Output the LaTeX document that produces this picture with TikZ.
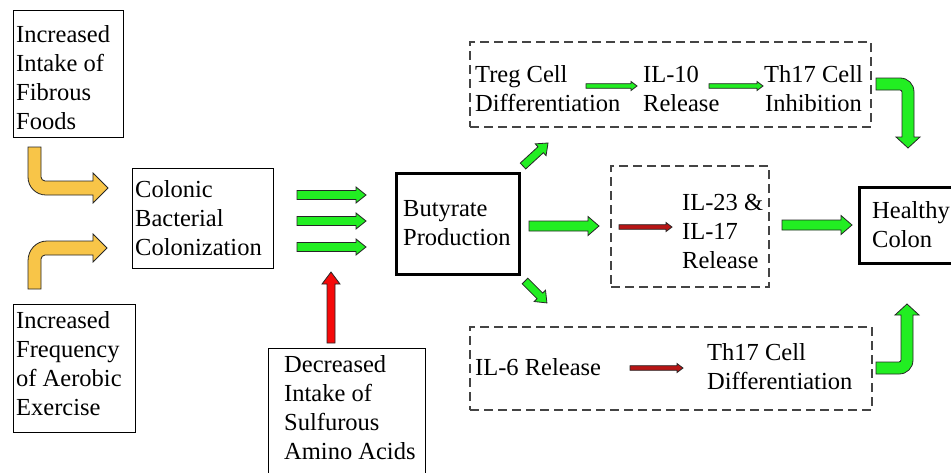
\documentclass[tikz,border=0pt]{standalone}
\usepackage{fontspec}
\setmainfont{Liberation Serif}
\definecolor{agreen}{HTML}{22EE22}
\definecolor{ayellow}{HTML}{F8C548}
\definecolor{ared}{HTML}{F50A0A}
\definecolor{adred}{HTML}{B81515}
\definecolor{dashgray}{HTML}{444444}
\newcommand\blockarr[8]{%
  \begin{scope}[shift={(#1,#2)},rotate=#3]
    \filldraw[fill=#8,arrline] (0,-#5) -- ({#4-#7},-#5) -- ({#4-#7},-#6) -- (#4,0) -- ({#4-#7},#6) -- ({#4-#7},#5) -- (0,#5) -- cycle;
  \end{scope}}
\begin{document}
\begin{tikzpicture}[x=1pt,y=-1pt,
  every node/.style={font=\fontsize{24.5}{29}\selectfont},
  box/.style={draw=black,line width=1pt,inner sep=0pt},
  thickbox/.style={draw=black,line width=3pt,inner sep=0pt},
  dbox/.style={draw=dashgray,line width=1.1pt,dash pattern=on 9pt off 5pt,inner sep=0pt},
  txt/.style={inner sep=0pt,align=left,anchor=west},
  arrline/.style={draw=black!85,line width=0.8pt,line join=miter}]
\useasboundingbox (0,0) rectangle (951,472);
\fill[white] (0,0) rectangle (951,472);
\begin{scope}
\clip (0,0) rectangle (951,472);
% solid boxes
\node[box,minimum width=110pt,minimum height=127pt] (fibb) at (68,73.5) {};
\node[box,minimum width=141pt,minimum height=100pt] (colb) at (202.5,218) {};
\node[box,minimum width=122pt,minimum height=128pt] (aerb) at (74,368) {};
\node[box,anchor=north west,minimum width=157pt,minimum height=140pt] (sulb) at (268,348) {};
\node[thickbox,minimum width=123pt,minimum height=101pt] (butb) at (457.5,223.5) {};
\node[thickbox,anchor=west,minimum width=110pt,minimum height=76pt] (heab) at (858,225) {};
% texts of solid boxes
\node[txt] (fib) at (16,77.5) {Increased\\Intake of\\Fibrous\\Foods};
\node[txt] (col) at (135,218) {Colonic\\Bacterial\\Colonization};
\node[txt] (aer) at (16,364) {Increased\\Frequency\\of Aerobic\\Exercise};
\node[txt] (sul) at (284,408) {Decreased\\Intake of\\Sulfurous\\Amino Acids};
\node[txt] (but) at (403,223) {Butyrate\\Production};
\node[txt] (hea) at (872,225) {Healthy\\Colon};
% dashed boxes
\node[dbox,minimum width=401pt,minimum height=85pt] (topb) at (670.5,84.5) {};
\node[dbox,minimum width=158pt,minimum height=121pt] (midb) at (690,226.5) {};
\node[dbox,minimum width=402pt,minimum height=83pt] (botb) at (671,368.5) {};
% texts in dashed boxes
\node[txt] (treg) at (475,89) {Treg Cell\\Differentiation};
\node[txt] (il10) at (643,89) {IL-10\\Release};
\node[txt,align=center] (th17i) at (764,89) {Th17 Cell\\Inhibition};
\node[txt] (il23) at (682,231) {IL-23 \&\\IL-17\\Release};
\node[txt] (il6) at (475,367) {IL-6 Release};
\node[txt] (th17d) at (707,367) {Th17 Cell\\Differentiation};
% yellow bent arrows
\filldraw[fill=ayellow,arrline] (28,147) -- (28,177) .. controls (28,187) and (36,195) .. (46,195) -- (93,195) -- (93,203) -- (108,188) -- (93,173) -- (93,181) -- (45,181) .. controls (43,181) and (41,179) .. (41,177) -- (41,147) -- cycle;
\filldraw[fill=ayellow,arrline] (28,289) -- (28,261) .. controls (28,250) and (36,241) .. (47,241) -- (93,241) -- (93,234) -- (107,248) -- (93,262) -- (93,255) -- (45,255) .. controls (43,255) and (41,257) .. (41,259) -- (41,289) -- cycle;
% triple green arrows
\blockarr{297}{195}{0}{69}{4.5}{8}{10}{agreen}
\blockarr{297}{221}{0}{69}{4.5}{8}{10}{agreen}
\blockarr{297}{247}{0}{69}{4.5}{8}{10}{agreen}
% red up arrow
\blockarr{331}{343}{90}{71}{4}{9}{12}{ared}
% butyrate outputs
\blockarr{523}{166}{42.6}{34}{4}{8}{10}{agreen}
\blockarr{525}{281}{-45}{31}{4}{8}{10}{agreen}
\blockarr{529}{226}{0}{70}{5}{9.5}{11}{agreen}
\blockarr{782}{225}{0}{70}{5}{9.5}{11}{agreen}
% thin arrows in boxes
\blockarr{586}{86}{0}{51}{2.3}{4.5}{6}{agreen}
\blockarr{709}{86}{0}{54}{2.3}{4.5}{6}{agreen}
\blockarr{619}{227}{0}{53}{2.3}{4.5}{6}{adred}
\blockarr{630}{368}{0}{53}{2.3}{4.5}{6}{adred}
% green bent arrows
\filldraw[fill=agreen,arrline] (876,78) -- (900,78) .. controls (908,78) and (914,84) .. (914,92) -- (914,137) -- (920,137) -- (908,148) -- (896,137) -- (902,137) -- (902,92) .. controls (902,91) and (901,90) .. (900,90) -- (876,90) -- cycle;
\filldraw[fill=agreen,arrline] (876,374) -- (899,374) .. controls (907,374) and (913,368) .. (913,360) -- (913,315) -- (919,315) -- (907,304) -- (895,315) -- (901,315) -- (901,360) .. controls (901,361) and (900,362) .. (899,362) -- (876,362) -- cycle;
\end{scope}
\end{tikzpicture}
\end{document}
